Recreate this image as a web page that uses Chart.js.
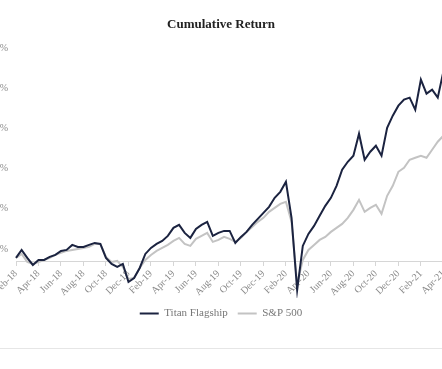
<!DOCTYPE html>
<html>
<head>
<meta charset="utf-8">
<script src="https://cdn.jsdelivr.net/npm/chart.js@4.4.1/dist/chart.umd.min.js"></script>
<style>
  html, body { margin: 0; padding: 0; background: #fff; overflow: hidden; }
  body { width: 442px; height: 369px; position: relative; }
  /* the chart is wider than the window, both edges are cut like in the original */
  #wrap { position: absolute; left: -39px; top: 0; width: 520px; height: 347px; }
  #rule { position: absolute; left: 0; top: 348px; width: 442px; border-top: 1px solid #e6e6e6; }
</style>
</head>
<body>
<div id="wrap"><canvas id="chart"></canvas></div>
<div id="rule"></div>
<script>
// months on the axis, two points per month (start and mid month)
const months = [
    "Feb-18", "Mar-18", "Apr-18", "May-18", "Jun-18", "Jul-18", "Aug-18", "Sep-18", "Oct-18", "Nov-18", "Dec-18",
    "Jan-19", "Feb-19", "Mar-19", "Apr-19", "May-19", "Jun-19", "Jul-19", "Aug-19", "Sep-19", "Oct-19", "Nov-19", "Dec-19",
    "Jan-20", "Feb-20", "Mar-20", "Apr-20", "May-20", "Jun-20", "Jul-20", "Aug-20", "Sep-20", "Oct-20", "Nov-20", "Dec-20",
    "Jan-21", "Feb-21", "Mar-21", "Apr-21"
];
const tickLabels = [
    "Feb-18", "Apr-18", "Jun-18", "Aug-18", "Oct-18", "Dec-18", "Feb-19", "Apr-19", "Jun-19", "Aug-19",
    "Oct-19", "Dec-19", "Feb-20", "Apr-20", "Jun-20", "Aug-20", "Oct-20", "Dec-20", "Feb-21", "Apr-21"
];
const categories = months.flatMap(m => [m, m + " mid"]);

// cumulative return in %
const titan = [
    2, 6, 2, -1.5, 1, 1, 2.5, 3.5, 5.5, 6, 8.5, 7.5, 7.5, 8.5, 9.5, 9,
    2, -1, -2.5, -1, -10, -8, -3, 4, 7, 9, 10.5, 13, 17, 18.5, 14.5, 12,
    16.5, 18.5, 20, 13, 14.5, 15.5, 15.5, 9.5, 12.5, 15, 18.5, 21.5, 24.5, 27.5, 32, 35,
    40, 22, -14, 8, 14, 18, 23, 28, 32, 38, 46, 50, 53, 64, 51, 55,
    58, 53, 67, 73, 78, 81, 82, 76, 91, 84, 86, 82, 95, 96
];
const sp500 = [
    2, 4, 0, -1, 0, 1, 2, 3.5, 4.5, 5.5, 6, 6.5, 7, 7.5, 9, 9,
    2.5, 0, 0.5, -2.5, -8.5, -8, -3, 1, 3.5, 5.5, 7, 8.5, 10.5, 12, 9, 8,
    11.5, 13, 14.5, 10, 11, 12.5, 11.5, 10, 12, 15, 17.5, 20, 22, 25, 27, 29,
    30, 20, -11, 1, 6, 8.5, 11, 12.5, 15, 17, 19, 22, 26, 31, 25, 27,
    28.5, 24, 33, 38, 45, 47, 51, 52, 53, 52, 56, 60, 63, 64
];

const serif = "'Liberation Serif', 'DejaVu Serif', serif";

const ctx = document.getElementById("chart").getContext("2d");
new Chart(ctx, {
    type: "line",
    data: {
        labels: categories,
        datasets: [{
            label: "Titan Flagship",
            data: titan,
            borderColor: "#1b2340",
            backgroundColor: "#1b2340",
            borderWidth: 2,
            pointRadius: 0,
            tension: 0
        }, {
            label: "S&P 500",
            data: sp500,
            borderColor: "#c3c3c3",
            backgroundColor: "#c3c3c3",
            borderWidth: 2,
            pointRadius: 0,
            tension: 0
        }]
    },
    options: {
        responsive: true,
        maintainAspectRatio: false,
        animation: false,
        layout: {
            // same padding on both sides so title and legend stay centred
            padding: { left: 32, right: 32, top: 0, bottom: 18 }
        },
        scales: {
            x: {
                type: "category",
                position: { y: 0 },
                grid: { drawOnChartArea: false, drawTicks: true, tickLength: 4, color: "#d6d6d6" },
                border: { color: "#d6d6d6" },
                ticks: {
                    autoSkip: false,
                    maxRotation: 45,
                    minRotation: 45,
                    padding: 2,
                    color: "#8a8a8a",
                    font: { family: serif, size: 10 },
                    callback: function (value, index) {
                        const c = categories[index];
                        return tickLabels.includes(c) ? c : null; // null hides the tick too
                    }
                }
            },
            y: {
                min: -18,
                max: 100,
                grid: { display: false, drawTicks: false },
                border: { display: false },
                afterFit: function (scale) {
                    scale.width = 23;
                },
                ticks: {
                    stepSize: 20,
                    padding: 8,
                    labelOffset: -13,
                    color: "#8a8a8a",
                    font: { family: serif, size: 10 },
                    callback: function (value) {
                        return value < 0 ? null : value + "%";
                    }
                }
            }
        },
        plugins: {
            title: {
                display: true,
                text: "Cumulative Return",
                color: "#222",
                font: { family: serif, size: 13, weight: "bold" },
                padding: { top: 17, bottom: 29 }
            },
            legend: {
                position: "bottom",
                labels: {
                    usePointStyle: true,
                    pointStyle: "line",
                    pointStyleWidth: 19,
                    padding: 10,
                    color: "#777",
                    font: { family: serif, size: 11 }
                }
            },
            tooltip: { enabled: false }
        }
    }
});
</script>
</body>
</html>
